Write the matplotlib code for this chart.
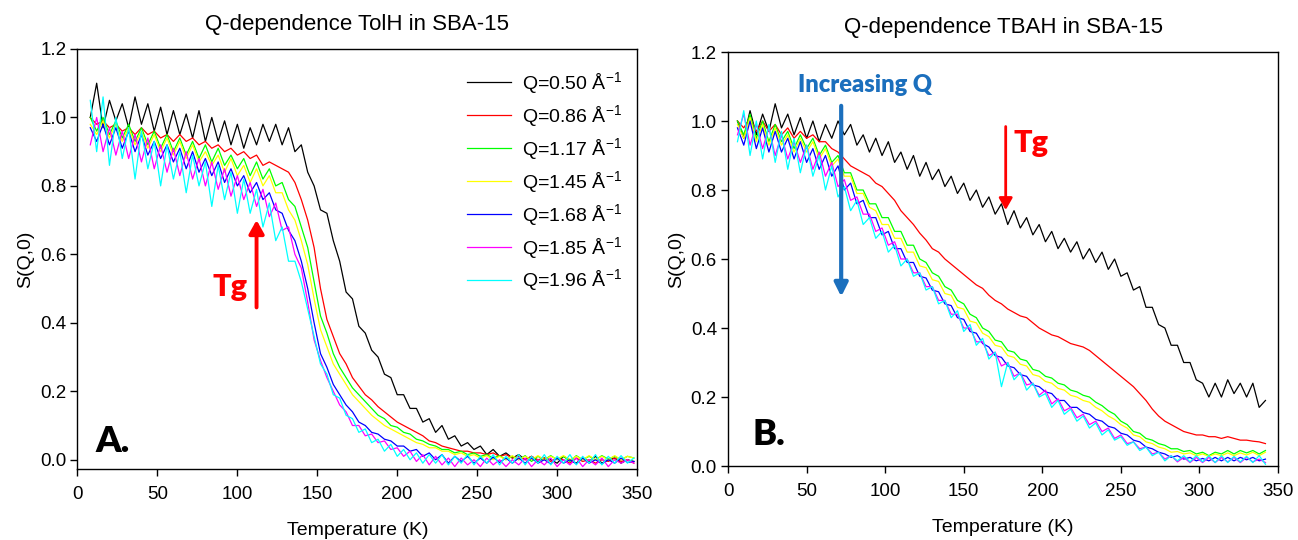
import matplotlib
matplotlib.use("Agg")
import matplotlib.pyplot as plt

plt.rcParams['font.family'] = ['Liberation Sans', 'DejaVu Sans']
plt.rcParams['mathtext.fontset'] = 'custom'
plt.rcParams['mathtext.rm'] = 'Liberation Sans'
plt.rcParams['mathtext.it'] = 'Liberation Sans:italic'

# ---------------- data ----------------
q_labels = ["0.50", "0.86", "1.17", "1.45", "1.68", "1.85", "1.96"]
colors = ["#000000", "#ff0000", "#00ff00", "#ffff00", "#0000ff", "#ff00ff", "#00ffff"]

# Panel A: TolH in SBA-15
temp_a = list(range(8, 349, 4))
tolh_q050 = [1.00, 1.10, 0.97, 1.05, 0.99, 1.04, 0.97, 1.06, 0.98, 1.04, 0.96, 1.03, 0.95, 1.02, 0.95, 1.01,
             0.94, 1.02, 0.93, 1.00, 0.93, 0.99, 0.92, 0.98, 0.91, 0.97, 0.92, 0.98, 0.93, 0.98, 0.92, 0.97,
             0.90, 0.92, 0.84, 0.80, 0.73, 0.72, 0.64, 0.58, 0.49, 0.47, 0.39, 0.37, 0.32, 0.30, 0.25, 0.24,
             0.19, 0.19, 0.15, 0.15, 0.11, 0.12, 0.08, 0.10, 0.06, 0.07, 0.04, 0.05, 0.03, 0.04, 0.015, 0.03,
             0.01, 0.02, 0.005, 0.015, 0.0, 0.01, -0.005, 0.005, 0.0, -0.01, 0.01, 0.0, -0.01, 0.005, -0.005, 0.01,
             -0.01, 0.0, 0.005, -0.01, 0.0, -0.005]
tolh_q086 = [1.00, 0.98, 0.99, 0.97, 0.98, 0.96, 0.97, 0.95, 0.97, 0.95, 0.96, 0.94, 0.95, 0.93, 0.95, 0.93,
             0.94, 0.92, 0.93, 0.91, 0.92, 0.90, 0.91, 0.89, 0.90, 0.88, 0.89, 0.86, 0.87, 0.86, 0.85, 0.84,
             0.81, 0.76, 0.70, 0.62, 0.50, 0.41, 0.36, 0.31, 0.28, 0.24, 0.215, 0.19, 0.175, 0.155, 0.14, 0.125,
             0.11, 0.10, 0.09, 0.08, 0.07, 0.055, 0.05, 0.04, 0.035, 0.03, 0.025, 0.025, 0.02, 0.02, 0.015, 0.02,
             0.01, 0.015, 0.005, 0.01, 0.0, 0.01, 0.0, 0.005, -0.005, 0.005, 0.0, -0.01, 0.005, -0.005, 0.0, -0.01,
             0.0, -0.005, 0.005, -0.005, 0.0, -0.01]
tolh_q117 = [1.00, 0.96, 1.00, 0.95, 0.99, 0.94, 0.98, 0.93, 0.97, 0.92, 0.96, 0.91, 0.95, 0.90, 0.94, 0.89,
             0.93, 0.88, 0.92, 0.87, 0.91, 0.86, 0.89, 0.85, 0.88, 0.83, 0.87, 0.82, 0.85, 0.80, 0.81, 0.76,
             0.74, 0.68, 0.62, 0.52, 0.42, 0.37, 0.31, 0.27, 0.24, 0.21, 0.19, 0.17, 0.15, 0.13, 0.12, 0.10,
             0.095, 0.08, 0.075, 0.06, 0.055, 0.045, 0.04, 0.03, 0.03, 0.02, 0.025, 0.015, 0.02, 0.01, 0.015, 0.005,
             0.012, 0.0, 0.01, 0.0, 0.012, -0.005, 0.01, 0.0, 0.012, 0.0, 0.01, -0.005, 0.012, 0.0, 0.01, 0.0,
             0.012, 0.002, 0.01, 0.0, 0.01, 0.005]
tolh_q145 = [0.98, 0.95, 0.99, 0.94, 0.98, 0.93, 0.97, 0.92, 0.96, 0.91, 0.95, 0.90, 0.94, 0.89, 0.93, 0.88,
             0.92, 0.87, 0.90, 0.86, 0.89, 0.84, 0.88, 0.83, 0.86, 0.81, 0.85, 0.80, 0.83, 0.78, 0.78, 0.73,
             0.70, 0.64, 0.57, 0.47, 0.38, 0.33, 0.28, 0.25, 0.22, 0.19, 0.17, 0.15, 0.13, 0.115, 0.10, 0.09,
             0.08, 0.07, 0.06, 0.05, 0.045, 0.035, 0.035, 0.025, 0.025, 0.015, 0.02, 0.01, 0.015, 0.005, 0.012, 0.0,
             0.01, 0.0, 0.012, 0.0, 0.01, 0.0, 0.012, 0.0, 0.01, 0.002, 0.012, 0.0, 0.01, 0.0, 0.012, 0.0,
             0.01, 0.0, 0.012, 0.0, 0.01, 0.005]
tolh_q168 = [0.97, 0.93, 0.98, 0.92, 0.97, 0.91, 0.96, 0.90, 0.95, 0.89, 0.93, 0.88, 0.92, 0.87, 0.91, 0.85,
             0.90, 0.84, 0.88, 0.83, 0.87, 0.81, 0.85, 0.80, 0.83, 0.78, 0.81, 0.76, 0.78, 0.73, 0.72, 0.67,
             0.64, 0.58, 0.50, 0.40, 0.31, 0.27, 0.22, 0.19, 0.16, 0.14, 0.11, 0.10, 0.08, 0.075, 0.06, 0.055,
             0.04, 0.04, 0.025, 0.03, 0.01, 0.02, 0.0, 0.015, -0.01, 0.01, -0.005, 0.01, -0.01, 0.005, -0.01, 0.008,
             -0.008, 0.005, -0.01, 0.005, -0.01, 0.005, -0.01, 0.0, -0.012, 0.005, -0.01, 0.0, -0.012, 0.005, -0.01, 0.0,
             -0.012, 0.0, -0.01, 0.005, -0.008, -0.005]
tolh_q185 = [0.92, 1.00, 0.90, 0.97, 0.89, 0.96, 0.88, 0.95, 0.87, 0.94, 0.85, 0.92, 0.84, 0.91, 0.83, 0.90,
             0.82, 0.88, 0.80, 0.87, 0.79, 0.85, 0.77, 0.83, 0.76, 0.81, 0.74, 0.79, 0.71, 0.75, 0.67, 0.68,
             0.60, 0.56, 0.46, 0.35, 0.29, 0.24, 0.20, 0.16, 0.14, 0.10, 0.10, 0.07, 0.075, 0.05, 0.055, 0.03,
             0.035, 0.01, 0.025, -0.005, 0.015, -0.015, 0.01, -0.015, 0.005, -0.02, 0.005, -0.015, 0.0, -0.02, 0.005, -0.015,
             0.0, -0.02, 0.0, -0.015, 0.005, -0.02, 0.0, -0.015, 0.005, -0.02, 0.0, -0.015, 0.005, -0.02, 0.0, -0.015,
             0.005, -0.02, 0.0, -0.01, 0.0, -0.01]
tolh_q196 = [1.05, 0.90, 1.06, 0.86, 1.00, 0.88, 0.97, 0.82, 0.96, 0.85, 0.93, 0.80, 0.92, 0.82, 0.90, 0.78,
             0.89, 0.80, 0.87, 0.74, 0.86, 0.76, 0.84, 0.72, 0.82, 0.72, 0.79, 0.68, 0.75, 0.64, 0.68, 0.58,
             0.58, 0.52, 0.44, 0.36, 0.28, 0.25, 0.19, 0.18, 0.13, 0.12, 0.08, 0.09, 0.05, 0.06, 0.025, 0.045,
             0.01, 0.03, 0.0, 0.02, -0.01, 0.015, -0.01, 0.015, -0.015, 0.01, -0.01, 0.015, -0.015, 0.01, -0.01, 0.015,
             -0.015, 0.01, -0.01, 0.015, -0.015, 0.01, -0.01, 0.015, -0.015, 0.01, -0.01, 0.015, -0.015, 0.01, -0.01, 0.015,
             -0.015, 0.01, -0.01, 0.012, -0.01, 0.005]

# Panel B: TBAH in SBA-15
temp_b = list(range(6, 343, 4))
tbah_q050 = [1.00, 0.95, 1.03, 0.96, 1.02, 0.97, 1.05, 0.98, 1.02, 0.96, 1.01, 0.95, 1.00, 0.94, 0.99, 0.95,
             1.00, 0.96, 0.99, 0.93, 0.96, 0.91, 0.95, 0.90, 0.94, 0.88, 0.91, 0.86, 0.90, 0.84, 0.88, 0.83,
             0.86, 0.81, 0.84, 0.79, 0.82, 0.77, 0.80, 0.75, 0.78, 0.73, 0.76, 0.70, 0.74, 0.69, 0.72, 0.67,
             0.70, 0.65, 0.68, 0.63, 0.66, 0.62, 0.65, 0.60, 0.63, 0.59, 0.62, 0.57, 0.60, 0.55, 0.56, 0.51,
             0.52, 0.46, 0.46, 0.41, 0.40, 0.35, 0.35, 0.30, 0.30, 0.25, 0.24, 0.20, 0.24, 0.20, 0.25, 0.21,
             0.24, 0.20, 0.24, 0.17, 0.19]
tbah_q086 = [1.00, 0.98, 1.01, 0.97, 1.00, 0.97, 0.99, 0.96, 0.98, 0.95, 0.97, 0.95, 0.96, 0.94, 0.94, 0.92,
             0.91, 0.89, 0.87, 0.86, 0.85, 0.84, 0.82, 0.81, 0.79, 0.77, 0.74, 0.72, 0.70, 0.675, 0.655, 0.63,
             0.62, 0.60, 0.585, 0.57, 0.555, 0.54, 0.525, 0.515, 0.495, 0.48, 0.47, 0.455, 0.445, 0.435, 0.43, 0.415,
             0.40, 0.39, 0.38, 0.375, 0.365, 0.355, 0.35, 0.345, 0.335, 0.32, 0.305, 0.29, 0.275, 0.26, 0.245, 0.23,
             0.21, 0.19, 0.165, 0.145, 0.13, 0.12, 0.11, 0.10, 0.095, 0.09, 0.09, 0.085, 0.085, 0.08, 0.085, 0.08,
             0.075, 0.075, 0.072, 0.07, 0.065]
tbah_q117 = [1.00, 0.96, 1.02, 0.95, 1.00, 0.94, 0.99, 0.94, 0.97, 0.92, 0.96, 0.92, 0.95, 0.90, 0.93, 0.88,
             0.90, 0.85, 0.85, 0.80, 0.80, 0.76, 0.76, 0.72, 0.72, 0.68, 0.68, 0.64, 0.64, 0.60, 0.59, 0.56,
             0.55, 0.52, 0.51, 0.48, 0.47, 0.44, 0.43, 0.40, 0.39, 0.365, 0.36, 0.335, 0.33, 0.31, 0.305, 0.28,
             0.275, 0.26, 0.255, 0.24, 0.235, 0.22, 0.215, 0.205, 0.20, 0.185, 0.175, 0.16, 0.15, 0.13, 0.12, 0.10,
             0.095, 0.08, 0.075, 0.065, 0.06, 0.05, 0.05, 0.042, 0.045, 0.035, 0.04, 0.03, 0.04, 0.035, 0.045, 0.035,
             0.045, 0.038, 0.045, 0.035, 0.045]
tbah_q145 = [0.99, 0.95, 1.01, 0.94, 0.99, 0.93, 0.98, 0.93, 0.96, 0.91, 0.95, 0.91, 0.94, 0.89, 0.92, 0.87,
             0.89, 0.84, 0.84, 0.79, 0.79, 0.75, 0.74, 0.70, 0.70, 0.66, 0.66, 0.62, 0.62, 0.58, 0.575, 0.54,
             0.535, 0.50, 0.495, 0.46, 0.455, 0.42, 0.415, 0.385, 0.375, 0.35, 0.345, 0.32, 0.315, 0.295, 0.29, 0.265,
             0.26, 0.245, 0.24, 0.225, 0.22, 0.205, 0.20, 0.19, 0.185, 0.17, 0.16, 0.145, 0.135, 0.12, 0.11, 0.09,
             0.085, 0.07, 0.065, 0.055, 0.05, 0.04, 0.042, 0.035, 0.038, 0.03, 0.035, 0.028, 0.035, 0.03, 0.038, 0.03,
             0.038, 0.032, 0.04, 0.03, 0.04]
tbah_q168 = [0.98, 0.93, 1.00, 0.92, 0.98, 0.91, 0.97, 0.91, 0.95, 0.89, 0.94, 0.88, 0.92, 0.86, 0.90, 0.84,
             0.87, 0.80, 0.82, 0.76, 0.77, 0.72, 0.72, 0.67, 0.68, 0.63, 0.63, 0.59, 0.59, 0.55, 0.545, 0.51,
             0.505, 0.47, 0.465, 0.43, 0.425, 0.39, 0.385, 0.355, 0.345, 0.32, 0.315, 0.29, 0.285, 0.265, 0.26, 0.235,
             0.23, 0.215, 0.21, 0.19, 0.19, 0.17, 0.17, 0.155, 0.15, 0.135, 0.13, 0.115, 0.11, 0.095, 0.09, 0.075,
             0.07, 0.055, 0.05, 0.04, 0.035, 0.025, 0.03, 0.02, 0.025, 0.015, 0.022, 0.015, 0.025, 0.015, 0.025, 0.015,
             0.025, 0.018, 0.025, 0.015, 0.02]
tbah_q185 = [0.96, 1.02, 0.93, 0.99, 0.92, 0.98, 0.90, 0.96, 0.89, 0.94, 0.88, 0.93, 0.86, 0.91, 0.84, 0.88,
             0.81, 0.83, 0.77, 0.78, 0.73, 0.73, 0.68, 0.69, 0.64, 0.65, 0.60, 0.60, 0.56, 0.56, 0.52, 0.52,
             0.48, 0.48, 0.44, 0.44, 0.40, 0.40, 0.36, 0.36, 0.32, 0.33, 0.29, 0.30, 0.26, 0.27, 0.235, 0.24,
             0.205, 0.22, 0.18, 0.195, 0.16, 0.17, 0.14, 0.15, 0.12, 0.13, 0.10, 0.11, 0.08, 0.09, 0.065, 0.07,
             0.05, 0.055, 0.035, 0.04, 0.02, 0.03, 0.012, 0.025, 0.01, 0.025, 0.01, 0.025, 0.01, 0.025, 0.012, 0.025,
             0.01, 0.025, 0.012, 0.02, 0.01]
tbah_q196 = [0.94, 1.03, 0.90, 1.00, 0.89, 0.99, 0.88, 0.97, 0.86, 0.95, 0.85, 0.93, 0.84, 0.90, 0.80, 0.87,
             0.78, 0.81, 0.74, 0.77, 0.70, 0.72, 0.66, 0.68, 0.62, 0.64, 0.58, 0.60, 0.55, 0.56, 0.51, 0.52,
             0.47, 0.48, 0.43, 0.45, 0.39, 0.41, 0.35, 0.37, 0.31, 0.33, 0.23, 0.30, 0.25, 0.27, 0.22, 0.24,
             0.20, 0.21, 0.17, 0.19, 0.15, 0.165, 0.13, 0.145, 0.11, 0.125, 0.09, 0.105, 0.075, 0.085, 0.06, 0.07,
             0.045, 0.055, 0.03, 0.04, 0.015, 0.03, 0.015, 0.03, 0.012, 0.03, 0.012, 0.03, 0.01, 0.03, 0.01, 0.028,
             0.012, 0.028, 0.01, 0.03, 0.005]

series_a = [tolh_q050, tolh_q086, tolh_q117, tolh_q145, tolh_q168, tolh_q185, tolh_q196]
series_b = [tbah_q050, tbah_q086, tbah_q117, tbah_q145, tbah_q168, tbah_q185, tbah_q196]

x_ticks = [0, 50, 100, 150, 200, 250, 300, 350]
y_ticks = [0.0, 0.2, 0.4, 0.6, 0.8, 1.0, 1.2]

# ---------------- figure ----------------
fig = plt.figure(figsize=(12.98, 5.40), dpi=100)
ax_a = fig.add_axes([0.0597, 0.1315, 0.4311, 0.7778])
ax_b = fig.add_axes([0.5609, 0.1370, 0.4237, 0.7667])

for ax, temps, series, title, ylo in [
        (ax_a, temp_a, series_a, "Q-dependence TolH in SBA-15", -0.027),
        (ax_b, temp_b, series_b, "Q-dependence TBAH in SBA-15", 0.0)]:
    for vals, col, q in zip(series, colors, q_labels):
        ax.plot(temps, vals, color=col, lw=0.9, label=f"Q={q} Å$^{{-1}}$")
    ax.set_xlim(0, 350)
    ax.set_ylim(ylo, 1.2)
    ax.set_xticks(x_ticks)
    ax.set_yticks(y_ticks)
    ax.set_yticklabels([f"{v:.1f}" for v in y_ticks])
    ax.tick_params(axis='x', pad=7)
    ax.tick_params(direction='out', length=5, width=1, labelsize=13.5, top=False, right=False)
    ax.tick_params(axis='y', pad=3)
    for sp in ax.spines.values():
        sp.set_linewidth(1.0)
    ax.set_xlabel("Temperature (K)", fontsize=14, labelpad=14)
    ax.set_ylabel("S(Q,0)", fontsize=14, labelpad=4)
    ax.set_title(title, fontsize=16, pad=14)

# Legend (panel A)
ax_a.legend(loc='upper left', bbox_to_anchor=(0.682, 0.968), frameon=False, fontsize=14,
            handlelength=2.27, labelspacing=0.36, handletextpad=0.55, borderaxespad=0.0)

ann_font = ['Lato', 'DejaVu Sans']
blue = '#1b6fbd'

# Annotations panel A
ax_a.text(22, 0.054, "A.", fontsize=26, fontweight='heavy', family=ann_font, ha='center', va='center')
ax_a.text(95.6, 0.505, "Tg", fontsize=22, fontweight='heavy', family=ann_font, color='#ff0000',
          ha='center', va='center')
ax_a.annotate("", xy=(112, 0.70), xytext=(112, 0.445),
              arrowprops=dict(arrowstyle='-|>,head_length=0.8,head_width=0.45', color='#ff0000',
                              lw=2.8, shrinkA=0, shrinkB=0))

# Annotations panel B
ax_b.text(26, 0.092, "B.", fontsize=26, fontweight='heavy', family=ann_font, ha='center', va='center')
ax_b.text(87.2, 1.104, "Increasing Q", fontsize=17, fontweight='heavy', family=ann_font, color=blue,
          ha='center', va='center')
ax_b.annotate("", xy=(72, 0.491), xytext=(72, 1.044),
              arrowprops=dict(arrowstyle='-|>,head_length=0.8,head_width=0.4', color=blue,
                              lw=3.0, shrinkA=0, shrinkB=0))
ax_b.text(192.8, 0.936, "Tg", fontsize=22, fontweight='heavy', family=ann_font, color='#ff0000',
          ha='center', va='center')
ax_b.annotate("", xy=(176.7, 0.742), xytext=(176.7, 0.984),
              arrowprops=dict(arrowstyle='-|>,head_length=0.7,head_width=0.4', color='#ff0000',
                              lw=2.0, shrinkA=0, shrinkB=0))

fig.savefig("out.png", dpi=100)
